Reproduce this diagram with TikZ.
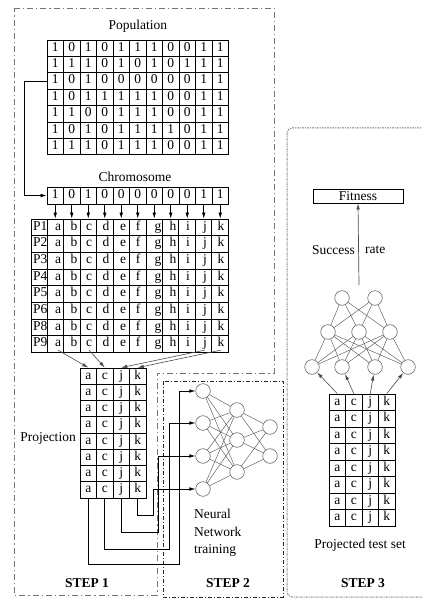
\documentclass[tikz,border=0pt]{standalone}
\usepackage{fontspec}
\setmainfont{Liberation Serif}
\usetikzlibrary{arrows.meta,calc}
\begin{document}
\begin{tikzpicture}[x=1pt,y=-1pt,
  font=\fontsize{13.5}{16}\selectfont,
  cell/.style={draw, line width=0.8pt, minimum width=16.5pt, minimum height=16.4pt, inner sep=0pt, text height=9pt, text depth=3pt},
  lt/.style={inner sep=0pt, text height=9pt, text depth=3pt},
  arr/.style={-{Latex[length=6pt,width=3.6pt]}, line width=0.7pt},
  thinarr/.style={-{Latex[length=6pt,width=3.6pt]}, line width=0.6pt, draw=black!70},
  neuron/.style={circle, draw=black!60, line width=0.6pt, minimum size=14.6pt, inner sep=0pt, fill=white},
  conn/.style={draw=black!65, line width=0.45pt},
  stepone/.style={draw=black!55, line width=0.9pt, dash pattern=on 6pt off 3pt on 1.2pt off 3pt},
  steptwo/.style={draw=black!85, line width=0.9pt, dash pattern=on 4pt off 2pt on 1pt off 2pt},
  stepthree/.style={draw=black!50, line width=1pt, dash pattern=on 2pt off 1pt on 1pt off 1pt, rounded corners=5pt},
  steplabel/.style={font=\fontsize{13.5}{16}\selectfont\bfseries}
]
\useasboundingbox (0,0) rectangle (422,604);

% ---------- step boxes ----------
\draw[stepone] (14,8) -- (274,8) -- (274,373) -- (157,373) -- (157,595) -- (14,595) -- cycle;
\draw[steptwo] (163,381) rectangle (283,597);
\draw[stepthree] (424,128) -- (287,128) -- (287,597) -- (424,597);

% ---------- population ----------
\node (poplab) at (137.75,26) {Population};
\foreach \r/\row in {1/{1,0,1,0,1,1,1,0,0,1,1},
                     2/{1,1,1,0,1,0,1,0,1,1,1},
                     3/{1,0,1,0,0,0,0,0,0,1,1},
                     4/{1,0,1,1,1,1,1,0,0,1,1},
                     5/{1,1,0,0,1,1,1,0,0,1,1},
                     6/{1,0,1,0,1,1,1,1,0,1,1},
                     7/{1,1,1,0,1,1,1,0,0,1,1}}{
  \foreach \v [count=\c] in \row {
    \node[cell] (pop-\r-\c) at ({47+16.5*(\c-0.5)},{40+16.4*(\r-0.5)}) {\v};
  }
}

% ---------- chromosome ----------
\node (chrlab) at (135,177) {Chromosome};
\foreach \v [count=\c] in {1,0,1,0,0,0,0,0,0,1,1} {
  \node[cell, minimum height=17pt] (chr-\c) at ({47+16.5*(\c-0.5)},195.5) {\v};
}
\draw[arr] (pop-3-1.west) -- ++(-22,0) |- (chr-1.west);

% ---------- P grid ----------
\node[draw, line width=0.8pt, minimum width=197pt, minimum height=133.2pt, inner sep=0pt] (pg) at (129.5,285.6) {};
\foreach \k in {1,...,11} \draw[line width=0.8pt] ({31+16.42*\k},219) -- ({31+16.42*\k},352.2);
\foreach \k in {1,...,7} \draw[line width=0.8pt] (31,{219+16.65*\k}) -- (228,{219+16.65*\k});
\foreach \lab [count=\i] in {P1,P2,P3,P4,P5,P6,P8,P9} {
  \node[lt, anchor=west] (pl-\i) at (33,{219+16.65*(\i-0.5)}) {\lab};
  \foreach \L/\xx [count=\c] in {a/58,b/74,c/89,d/106,e/123,f/138,g/158,h/173,i/188,j/205,k/221} {
    \node[lt] (p-\i-\c) at (\xx,{219+16.65*(\i-0.5)}) {\L};
  }
}
\foreach \c in {1,...,11} \draw[arr] (chr-\c.south) -- (chr-\c.south |- pg.north);

% ---------- projection ----------
\foreach \r in {1,...,8} {
  \foreach \L [count=\c] in {a,c,j,k} {
    \node[cell, minimum height=16.25pt] (pr-\r-\c) at ({80+16.5*(\c-0.5)},{368+16.25*(\r-0.5)}) {\L};
  }
}
\node (projlab) at (48,438) {Projection};
\draw[thinarr] (p-8-1.south) -- (pr-1-1.north);
\draw[thinarr] (p-8-3.south) -- (pr-1-2.north);
\draw[thinarr] (p-8-10.south) -- (pr-1-3.north);
\draw[thinarr] (p-8-11.south) -- (pr-1-4.north);

% ---------- step 2 network ----------
\foreach \i/\yy in {1/391,2/423,3/456,4/489} \node[neuron] (a\i) at (203,\yy) {};
\foreach \i/\yy in {1/410,2/440,3/472} \node[neuron] (h\i) at (237,\yy) {};
\foreach \i/\yy in {1/427,2/456} \node[neuron] (o\i) at (270,\yy) {};
\foreach \i in {1,...,4} \foreach \j in {1,...,3} \draw[conn] (a\i) -- (h\j);
\foreach \i in {1,...,3} \foreach \j in {1,2} \draw[conn] (h\i) -- (o\j);

\coordinate (bk) at (153,515);
\coordinate (bj) at (158,532);
\coordinate (bc) at (169,549);
\coordinate (ba) at (179,564);
\draw[arr] (pr-8-4.south) |- (bk) |- (a4.west);
\draw[arr] (pr-8-3.south) |- (bj) |- (a3.west);
\draw[arr] (pr-8-2.south) |- (bc) |- (a2.west);
\draw[arr] (pr-8-1.south) |- (ba) |- (a1.west);

\node[anchor=west, align=left, inner sep=0pt, font=\fontsize{13.5}{17.5}\selectfont] (nnlab) at (194,533) {Neural\\Network\\training};

% ---------- step 3 ----------
\node[draw, line width=0.8pt, minimum width=90pt, minimum height=14pt, inner sep=0pt] (fit) at (358,196) {Fitness};
\coordinate (srs) at (359,285);
\draw[arr, draw=black!70] (srs) -- (fit.south);
\node[anchor=east, inner sep=0pt] (succ) at (355,250) {Success};
\node[anchor=west, inner sep=0pt] (rate) at (365,250) {rate};

\foreach \i/\xx in {1/342,2/375} \node[neuron] (t\i) at (\xx,298) {};
\foreach \i/\xx in {1/328,2/359,3/390} \node[neuron] (m\i) at (\xx,332) {};
\foreach \i/\xx in {1/312,2/342,3/375,4/408} \node[neuron] (b\i) at (\xx,367) {};
\foreach \i in {1,...,4} \foreach \j in {1,...,3} \draw[conn] (b\i) -- (m\j);
\foreach \i in {1,...,3} \foreach \j in {1,2} \draw[conn] (m\i) -- (t\j);

\foreach \r in {1,...,8} {
  \foreach \L [count=\c] in {a,c,j,k} {
    \node[cell, minimum height=16.5pt] (ts-\r-\c) at ({329+16.5*(\c-0.5)},{394+16.5*(\r-0.5)}) {\L};
  }
}
\foreach \c in {1,...,4} \draw[thinarr] (ts-1-\c.north) -- (b\c);
\node (testlab) at (360,545) {Projected test set};

% ---------- step labels ----------
\node[steplabel] (s1) at (87,583) {STEP 1};
\node[steplabel] (s2) at (228,583) {STEP 2};
\node[steplabel] (s3) at (363,583) {STEP 3};
\end{tikzpicture}
\end{document}
